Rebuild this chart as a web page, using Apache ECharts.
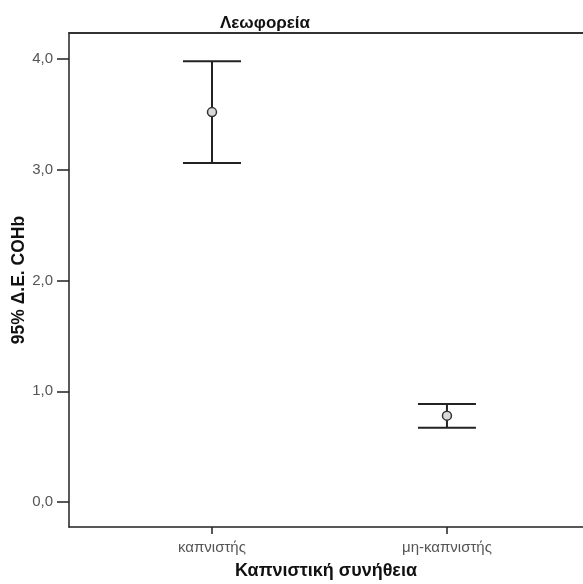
<!DOCTYPE html>
<html>
<head>
<meta charset="utf-8">
<script src="https://cdn.jsdelivr.net/npm/echarts@6/dist/echarts.min.js"></script>
<style>
html,body{margin:0;padding:0;background:#fff;}
#chart{width:583px;height:584px;}
</style>
</head>
<body>
<div id="chart"></div>
<script>
var categories = ['καπνιστής', 'μη-καπνιστής'];
var means = [3.52, 0.78];
var lowerCI = [3.06, 0.67];
var upperCI = [3.98, 0.885];
var yTicks = [0, 1, 2, 3, 4];
var xPositions = [1, 2];

var chart = echarts.init(document.getElementById('chart'), null, {renderer: 'canvas'});

var data = categories.map(function (c, i) {
  return [xPositions[i], means[i], lowerCI[i], upperCI[i]];
});

var FONT = '"Liberation Sans", Arial, sans-serif';

var option = {
  animation: false,
  backgroundColor: '#ffffff',
  title: {
    text: 'Λεωφορεία',
    left: 260,
    top: 10,
    textAlign: 'center',
    textStyle: {fontFamily: FONT, fontSize: 17, fontWeight: 'bold', color: '#111'}
  },
  grid: {left: 69, top: 33, bottom: 57, right: 0, containLabel: false, outerBoundsMode: 'none'},
  xAxis: [{
    type: 'value',
    min: 0.3915,
    max: 2.579,
    position: 'bottom',
    splitLine: {show: false},
    axisLine: {show: true, onZero: false, lineStyle: {color: '#222', width: 1.5}},
    axisTick: {show: true, customValues: xPositions, length: 7, lineStyle: {color: '#222', width: 1.5}},
    axisLabel: {
      customValues: xPositions,
      formatter: function (v) { return categories[Math.round(v) - 1] || ''; },
      fontFamily: FONT, fontSize: 15, color: '#555', margin: 13
    },
    name: 'Καπνιστική συνήθεια',
    nameLocation: 'middle',
    nameGap: 35,
    nameMoveOverlap: false,
    nameTextStyle: {fontFamily: FONT, fontSize: 18, fontWeight: 'bold', color: '#111'}
  }, {
    type: 'value',
    min: 0.3915,
    max: 2.579,
    position: 'top',
    splitLine: {show: false},
    axisLine: {show: true, onZero: false, lineStyle: {color: '#333', width: 2}},
    axisTick: {show: false},
    axisLabel: {show: false}
  }],
  yAxis: {
    type: 'value',
    min: -0.225,
    max: 4.234,
    splitLine: {show: false},
    axisLine: {show: true, onZero: false, lineStyle: {color: '#222', width: 1.5}},
    axisTick: {show: true, customValues: yTicks, length: 12, lineStyle: {color: '#222', width: 1.5}},
    axisLabel: {
      customValues: yTicks,
      formatter: function (v) { return v.toFixed(1).replace('.', ','); },
      fontFamily: FONT, fontSize: 15, color: '#555', margin: 16
    },
    name: '95% Δ.Ε. COHb',
    nameLocation: 'middle',
    nameGap: 41,
    nameMoveOverlap: false,
    nameTextStyle: {fontFamily: FONT, fontSize: 17.5, fontWeight: 'bold', color: '#111'}
  },
  series: [{
    type: 'custom',
    xAxisIndex: 0,
    yAxisIndex: 0,
    data: data,
    encode: {x: 0, y: [1, 2, 3]},
    renderItem: function (params, api) {
      var x = api.value(0);
      var pMean = api.coord([x, api.value(1)]);
      var pLow = api.coord([x, api.value(2)]);
      var pHigh = api.coord([x, api.value(3)]);
      var hw = 29;
      var ls = {stroke: '#222', lineWidth: 2};
      return {
        type: 'group',
        children: [
          {type: 'line', shape: {x1: pLow[0], y1: pLow[1], x2: pHigh[0], y2: pHigh[1]}, style: ls},
          {type: 'line', shape: {x1: pLow[0] - hw, y1: pLow[1], x2: pLow[0] + hw, y2: pLow[1]}, style: ls},
          {type: 'line', shape: {x1: pHigh[0] - hw, y1: pHigh[1], x2: pHigh[0] + hw, y2: pHigh[1]}, style: ls},
          {type: 'circle', shape: {cx: pMean[0], cy: pMean[1], r: 4.5}, style: {fill: '#d8d8d8', stroke: '#333', lineWidth: 1.5}}
        ]
      };
    }
  }]
};

chart.setOption(option);
</script>
</body>
</html>
